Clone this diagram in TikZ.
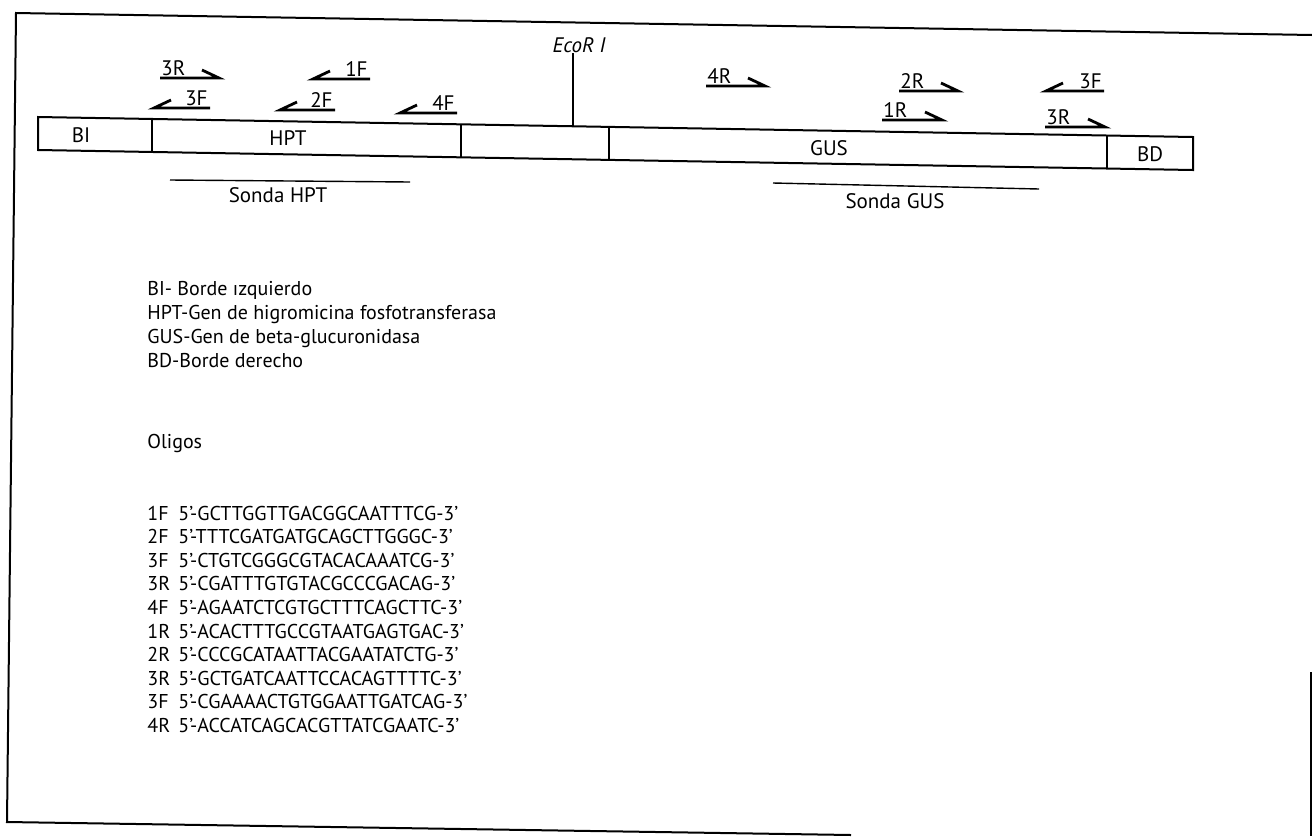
\documentclass[tikz,border=0pt]{standalone}
\usepackage{fontspec}
\setmainfont{PT Sans}
\usetikzlibrary{calc}
\tikzset{
  frameline/.style={line width=1pt},
  boxline/.style={line width=1pt},
  primer/.style={line width=1.4pt},
  probe/.style={line width=0.7pt},
  lab/.style={font=\fontsize{10.5}{12}\selectfont, inner sep=0pt},
  legend/.style={font=\fontsize{10}{12}\selectfont, anchor=base west, inner sep=0pt},
}
% rightward primer: name, x1, x2, y, label
\newcommand\primR[5]{%
  \draw[primer] (#2,#4) -- (#3,#4) -- ++(-17,-8);
  \node[lab, anchor=base west] (#1) at (#2+1,#4-3) {#5};}
% leftward primer: name, x1, x2, y, label
\newcommand\primL[5]{%
  \draw[primer] (#3,#4) -- (#2,#4) -- ++(17,-8);
  \node[lab, anchor=base east] (#1) at (#3-2,#4-3) {#5};}
\begin{document}
\begin{tikzpicture}[x=0.5pt,y=-0.5pt]
\useasboundingbox (0,0) rectangle (1312,836);
% frame
\coordinate (fTL) at (16,13);
\coordinate (fTR) at (1312,35);
\coordinate (fBL) at (7,822);
\coordinate (fBM) at (851,835);
\coordinate (fRT) at (1311,672);
\coordinate (fRB) at (1311,836);
\draw[frameline] (fTR) -- (fTL) -- (fBL) -- (fBM);
\draw[frameline] (fRT) -- (fRB);
% construct boxes
\coordinate (t0) at (38,117);   \coordinate (b0) at (38,150);
\coordinate (t1) at (152,119);  \coordinate (b1) at (152,152);
\coordinate (t2) at (461,124.3);\coordinate (b2) at (461,157.3);
\coordinate (t3) at (609,126.9);\coordinate (b3) at (609,159.9);
\coordinate (t4) at (1107,135.5);\coordinate (b4) at (1107,168.5);
\coordinate (t5) at (1193,137); \coordinate (b5) at (1193,170);
\draw[boxline] (t0) -- (t5) -- (b5) -- (b0) -- cycle;
\foreach \i in {1,2,3,4} {\draw[boxline] (t\i) -- (b\i);}
\node[lab] (BI) at (81,135) {BI};
\node[lab] (HPT) at (288,138) {HPT};
\node[lab] (GUS) at (829,148) {GUS};
\node[lab] (BD) at (1150,154) {BD};
% EcoR1
\coordinate (eco) at (573,126.3);
\node[lab, anchor=south] (ecolab) at (579,53) {\itshape EcoR I};
\draw[line width=1.3pt] (eco) -- (573,53);
% primers
\primR{p3Ra}{160}{219}{78}{3R}
\primL{p1F}{313}{370}{79}{1F}
\primL{p3Fa}{154}{210}{108}{3F}
\primL{p2F}{280}{335}{110}{2F}
\primL{p4F}{400}{457}{113}{4F}
\primR{p4R}{706}{765}{86}{4R}
\primR{p2R}{899}{958}{91}{2R}
\primL{p3Fb}{1046}{1104}{91}{3F}
\primR{p1R}{882}{942}{120}{1R}
\primR{p3Rb}{1045}{1105}{127}{3R}
% probes
\coordinate (sh1) at (170,180); \coordinate (sh2) at (410,182);
\coordinate (sg1) at (773,183); \coordinate (sg2) at (1039,189);
\draw[probe] (sh1) -- (sh2);
\draw[probe] (sg1) -- (sg2);
\node[lab] (sondaH) at (278,195) {Sonda HPT};
\node[lab] (sondaG) at (895,201) {Sonda GUS};
% legend
\node[legend] (L1) at (147,295) {BI- Borde ızquierdo};
\node[legend] (L2) at (147,319) {HPT-Gen de higromicina fosfotransferasa};
\node[legend] (L3) at (147,343) {GUS-Gen de beta-glucuronidasa};
\node[legend] (L4) at (147,367) {BD-Borde derecho};
\node[legend] (L5) at (147,448) {Oligos};
\foreach \n/\s [count=\k from 0] in {
  1F/GCTTGGTTGACGGCAATTTCG,
  2F/TTTCGATGATGCAGCTTGGGC,
  3F/CTGTCGGGCGTACACAAATCG,
  3R/CGATTTGTGTACGCCCGACAG,
  4F/AGAATCTCGTGCTTTCAGCTTC,
  1R/ACACTTTGCCGTAATGAGTGAC,
  2R/CCCGCATAATTACGAATATCTG,
  3R/GCTGATCAATTCCACAGTTTTC,
  3F/CGAAAACTGTGGAATTGATCAG,
  4R/ACCATCAGCACGTTATCGAATC} {
  \node[legend] (on\k) at (147,520+23.6*\k) {\n};
  \node[legend] (os\k) at (178,520+23.6*\k) {5'-\s-3'};
}
\end{tikzpicture}
\end{document}
